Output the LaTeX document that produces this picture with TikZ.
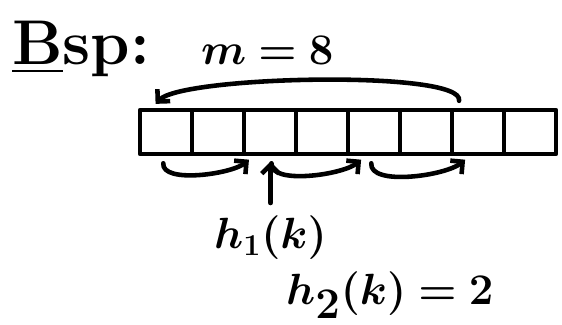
\documentclass[tikz,border=0pt]{standalone}
\usepackage{tikz}
\usetikzlibrary{arrows.meta, positioning, calc}
\usepackage{amsmath}
\usepackage{bm}

\begin{document}
\begin{tikzpicture}[x=0.02cm, y=0.02cm,
    pen/.style={line width=2.6pt, line cap=round, line join=round},
    cell/.style={pen, draw, minimum width=1.04cm, minimum height=0.88cm, inner sep=0pt},
    hop/.style={pen, -{Straight Barb[length=5pt, width=10pt]}, shorten <=4pt, shorten >=3pt}]
    \useasboundingbox (0,0) rectangle (562,325);

    \node[anchor=base west] (bsp) at (6,260) {\fontsize{36}{40}\selectfont\bfseries\underline{B}sp:};
    \node[anchor=base west] (msize) at (195,260) {\fontsize{39}{42}\selectfont$\bm{m} \bm{=} \bm{8}$};

    % the table with m slots
    \foreach \i in {1,...,8} {
        \node[cell] (c\i) at (114+52*\i, 193) {};
    }

    % probe sequence, step h_2(k)
    \draw[hop, looseness=0.8] (c1.-95) to[out=-95, in=-140] (c3.-125);
    \draw[hop, looseness=0.8] (c3.-85) to[out=-95, in=-140] (c5.-110);
    \draw[hop, looseness=0.8] (c5.-95) to[out=-95, in=-140] (c7.-110);
    \draw[hop] (c7.130) .. controls +(8,38) and +(30,32) .. (c1.120);

    \node[anchor=base west] (hone) at (208,76) {\fontsize{24}{28}\selectfont$\bm{h}_{\mathbf{1}}\bm{(k)}$};
    \draw[hop] (hone.north) -- (hone.north |- c3.south);

    \node[anchor=base west] (htwo) at (280,20) {\fontsize{36}{40}\selectfont$\bm{h}_{\mathbf{2}}\bm{(k)} \bm{=} \bm{2}$};
\end{tikzpicture}
\end{document}
